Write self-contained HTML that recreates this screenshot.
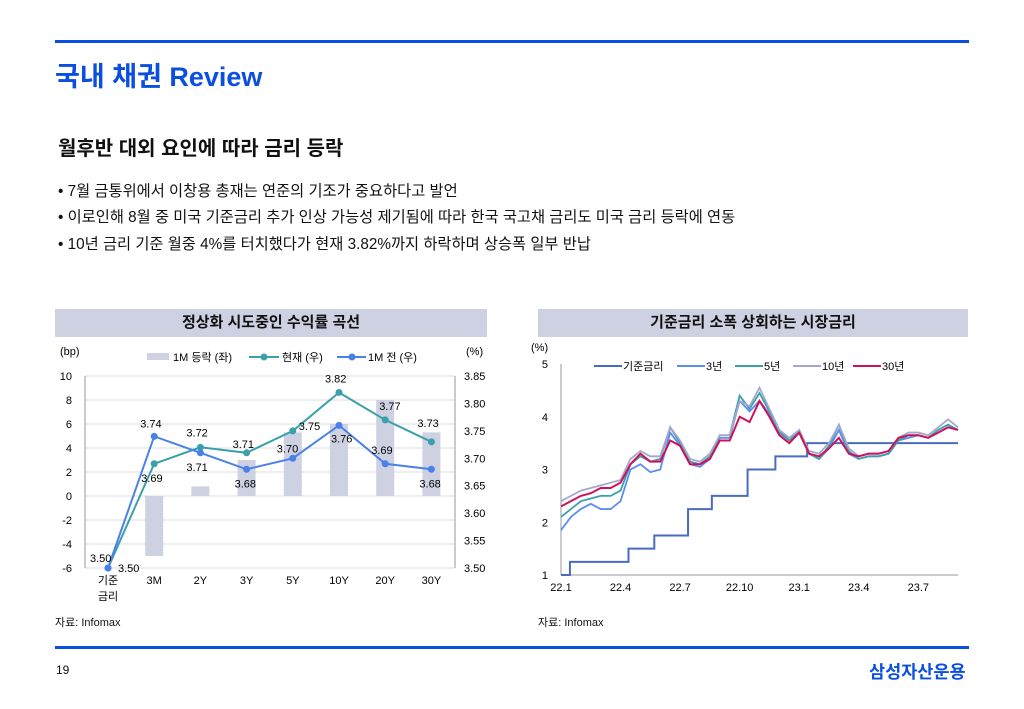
<!DOCTYPE html>
<html><head><meta charset="utf-8">
<style>
body{margin:0;width:1024px;height:709px;background:#fff;font-family:"Liberation Sans","Noto Sans CJK KR",sans-serif;position:relative;overflow:hidden;color:#111}
.abs{position:absolute}
.bar{background:#0a4fe0;height:3px;left:55px;width:914px}
.ct{background:#cdd1e2;height:28px;top:309px;font-size:15px;font-weight:bold;text-align:center;line-height:28px}
.bl{left:58px;font-size:15.3px}
svg text{font-family:"Liberation Sans","Noto Sans CJK KR",sans-serif}
</style></head><body>
<div class="abs bar" style="top:40px"></div>
<div class="abs" style="left:55px;top:55px;font-size:27px;font-weight:bold;color:#0a4fe0">국내 채권 Review</div>
<div class="abs" style="left:58px;top:132px;font-size:20px;font-weight:bold">월후반 대외 요인에 따라 금리 등락</div>
<div class="abs bl" style="top:179px">• 7월 금통위에서 이창용 총재는 연준의 기조가 중요하다고 발언</div>
<div class="abs bl" style="top:205px">• 이로인해 8월 중 미국 기준금리 추가 인상 가능성 제기됨에 따라 한국 국고채 금리도 미국 금리 등락에 연동</div>
<div class="abs bl" style="top:232px">• 10년 금리 기준 월중 4%를 터치했다가 현재 3.82%까지 하락하며 상승폭 일부 반납</div>
<div class="abs ct" style="left:55px;width:432px">정상화 시도중인 수익률 곡선</div>
<div class="abs ct" style="left:538px;width:430px">기준금리 소폭 상회하는 시장금리</div>
<svg class="abs" style="left:0;top:0" width="1024" height="709" id="svg"></svg>
<div class="abs" style="left:55px;top:614px;font-size:11px">자료: Infomax</div>
<div class="abs" style="left:538px;top:614px;font-size:11px">자료: Infomax</div>
<div class="abs bar" style="top:646px"></div>
<div class="abs" style="left:56px;top:663px;font-size:12px">19</div>
<div class="abs" style="left:869px;top:659px;font-size:17.5px;font-weight:bold;color:#0a4fe0">삼성자산운용</div>
<script>
const cats=["기준\n금리","3M","2Y","3Y","5Y","10Y","20Y","30Y"];
const chg=[null,-5,0.8,3,5.3,6,8,5.3];
const cur=[3.50,3.69,3.72,3.71,3.75,3.82,3.77,3.73];
const prev=[3.50,3.74,3.71,3.68,3.70,3.76,3.69,3.68];
const leftTicks=[10,8,6,4,2,0,-2,-4,-6];
const rightTicks=["3.85","3.80","3.75","3.70","3.65","3.60","3.55","3.50"];
const xLabels=["22.1","22.4","22.7","22.10","23.1","23.4","23.7"];
const y30=[2.3,2.4,2.5,2.55,2.65,2.65,2.75,3.1,3.3,3.15,3.15,3.55,3.45,3.1,3.1,3.2,3.55,3.55,4.0,3.9,4.3,4.0,3.65,3.5,3.7,3.3,3.25,3.4,3.6,3.3,3.25,3.3,3.3,3.35,3.6,3.65,3.65,3.6,3.7,3.8,3.75];
const y10=[2.4,2.5,2.6,2.65,2.7,2.75,2.8,3.2,3.35,3.25,3.25,3.8,3.55,3.2,3.15,3.3,3.65,3.65,4.3,4.2,4.55,4.15,3.75,3.6,3.75,3.35,3.3,3.5,3.85,3.4,3.25,3.3,3.3,3.35,3.6,3.7,3.7,3.65,3.8,3.95,3.8];
const y5=[2.1,2.25,2.4,2.45,2.5,2.5,2.6,3.1,3.25,3.15,3.2,3.8,3.5,3.15,3.1,3.25,3.65,3.65,4.4,4.15,4.45,4.1,3.7,3.55,3.7,3.3,3.2,3.45,3.85,3.35,3.2,3.25,3.25,3.3,3.55,3.65,3.65,3.6,3.75,3.85,3.75];
const y3=[1.85,2.1,2.25,2.35,2.25,2.25,2.4,3.0,3.1,2.95,3.0,3.7,3.45,3.1,3.05,3.2,3.6,3.6,4.3,4.1,4.3,4.05,3.7,3.6,3.7,3.3,3.2,3.4,3.75,3.3,3.2,3.25,3.25,3.3,3.55,3.6,3.65,3.6,3.7,3.8,3.75];
const baseMonths=[0,0.45,3.4,4.7,6.4,7.6,9.4,10.8,12.4,20];
const baseRates=[1.0,1.25,1.5,1.75,2.25,2.5,3.0,3.25,3.5,3.5];

const svg=document.getElementById('svg');const NS='http://www.w3.org/2000/svg';
function mk(t,a,txt){const e=document.createElementNS(NS,t);for(const k in a)e.setAttribute(k,a[k]);if(txt!=null)e.textContent=txt;svg.appendChild(e);return e;}
const lx=i=>108+i*46.2, ly=v=>376+(10-v)*12, ry=v=>376+(3.85-v)/0.35*192;
leftTicks.forEach(t=>{const g=mk('line',{x1:85,x2:455,y1:ly(t),y2:ly(t),stroke:'#ddd'});
 const tx=mk('text',{x:72,y:ly(t)+4,'font-size':11,'text-anchor':'end'},t);});
rightTicks.forEach(t=>{const tx=mk('text',{x:464,y:ry(+t)+4,'font-size':11},t);});
mk('line',{x1:85,x2:85,y1:376,y2:568,stroke:'#999'});mk('line',{x1:455,x2:455,y1:376,y2:568,stroke:'#999'});
mk('text',{x:60,y:355,'font-size':11},'(bp)');mk('text',{x:466,y:355,'font-size':11},'(%)');
chg.forEach((v,i)=>{if(v==null)return;const r=mk('rect',{x:lx(i)-9,y:Math.min(ly(v),ly(0)),width:18,height:Math.abs(ly(v)-ly(0)),fill:'#cdd1e2'});});
function series(arr,col,name){const p=mk('polyline',{points:arr.map((v,i)=>lx(i)+','+ry(v)).join(' '),fill:'none',stroke:col,'stroke-width':2});
 arr.forEach((v,i)=>{const c=mk('circle',{cx:lx(i),cy:ry(v),r:3.5,fill:col});});}
series(cur,'#3aa0aa','current');series(prev,'#4a80e8','prev-month');
const curOff=[[-18,-6],[-13,18],[-14,-11],[-14,-5],[6,-1],[-14,-10],[-6,-10],[-14,-15]];
const prevOff=[[10,4],[-14,-9],[-14,18],[-12,18],[-16,-6],[-8,17],[-14,-10],[-12,18]];
cur.forEach((v,i)=>{const t=mk('text',{x:lx(i)+curOff[i][0],y:ry(v)+curOff[i][1],'font-size':11},v.toFixed(2));});
prev.forEach((v,i)=>{const t=mk('text',{x:lx(i)+prevOff[i][0],y:ry(v)+prevOff[i][1],'font-size':11},v.toFixed(2));});
cats.forEach((c,i)=>{c.split('\n').forEach((s,j)=>{const t=mk('text',{x:lx(i),y:584+j*16,'font-size':11,'text-anchor':'middle'},s);});});
mk('rect',{x:147,y:353,width:22,height:7,fill:'#cdd1e2'});mk('text',{x:173,y:361,'font-size':11},'1M 등락 (좌)');
mk('line',{x1:249,x2:279,y1:357,y2:357,stroke:'#3aa0aa','stroke-width':2});mk('circle',{cx:264,cy:357,r:3.5,fill:'#3aa0aa'});mk('text',{x:282,y:361,'font-size':11},'현재 (우)');
mk('line',{x1:337,x2:366,y1:357,y2:357,stroke:'#4a80e8','stroke-width':2});mk('circle',{cx:352,cy:357,r:3.5,fill:'#4a80e8'});mk('text',{x:368,y:361,'font-size':11},'1M 전 (우)');
const mx=m=>561+m*19.85, vy=v=>575-(v-1)*52.75;
mk('line',{x1:561,x2:561,y1:364,y2:575,stroke:'#999'});mk('line',{x1:561,x2:958,y1:575,y2:575,stroke:'#999'});
[1,2,3,4,5].forEach(v=>{const t=mk('text',{x:548,y:vy(v)+4,'font-size':11,'text-anchor':'end'},v);});
mk('text',{x:531,y:351,'font-size':11},'(%)');
xLabels.forEach((l,i)=>{const t=mk('text',{x:mx(i*3),y:591,'font-size':11,'text-anchor':'middle'},l);});
let bp=[];baseMonths.forEach((m,i)=>{if(i>0)bp.push(mx(m)+','+vy(baseRates[i-1]));bp.push(mx(m)+','+vy(baseRates[i]));});
const bl=mk('polyline',{points:bp.join(' '),fill:'none',stroke:'#4a6cc0','stroke-width':2});
[[y3,'#5b8ef0','3y'],[y5,'#3aa0aa','5y'],[y10,'#a3a8cc','10y'],[y30,'#d0105a','30y']].forEach(([a,c,n])=>{const p=mk('polyline',{points:a.map((v,i)=>mx(i*0.5)+','+vy(v)).join(' '),fill:'none',stroke:c,'stroke-width':n=='30y'?2:1.8});});
[['기준금리','#4a6cc0',594],['3년','#5b8ef0',677],['5년','#3aa0aa',735],['10년','#a3a8cc',793],['30년','#d0105a',853]].forEach(([l,c,x])=>{mk('line',{x1:x,x2:x+28,y1:366,y2:366,stroke:c,'stroke-width':2});const t=mk('text',{x:x+29,y:370,'font-size':11},l);});
</script>
</body></html>
